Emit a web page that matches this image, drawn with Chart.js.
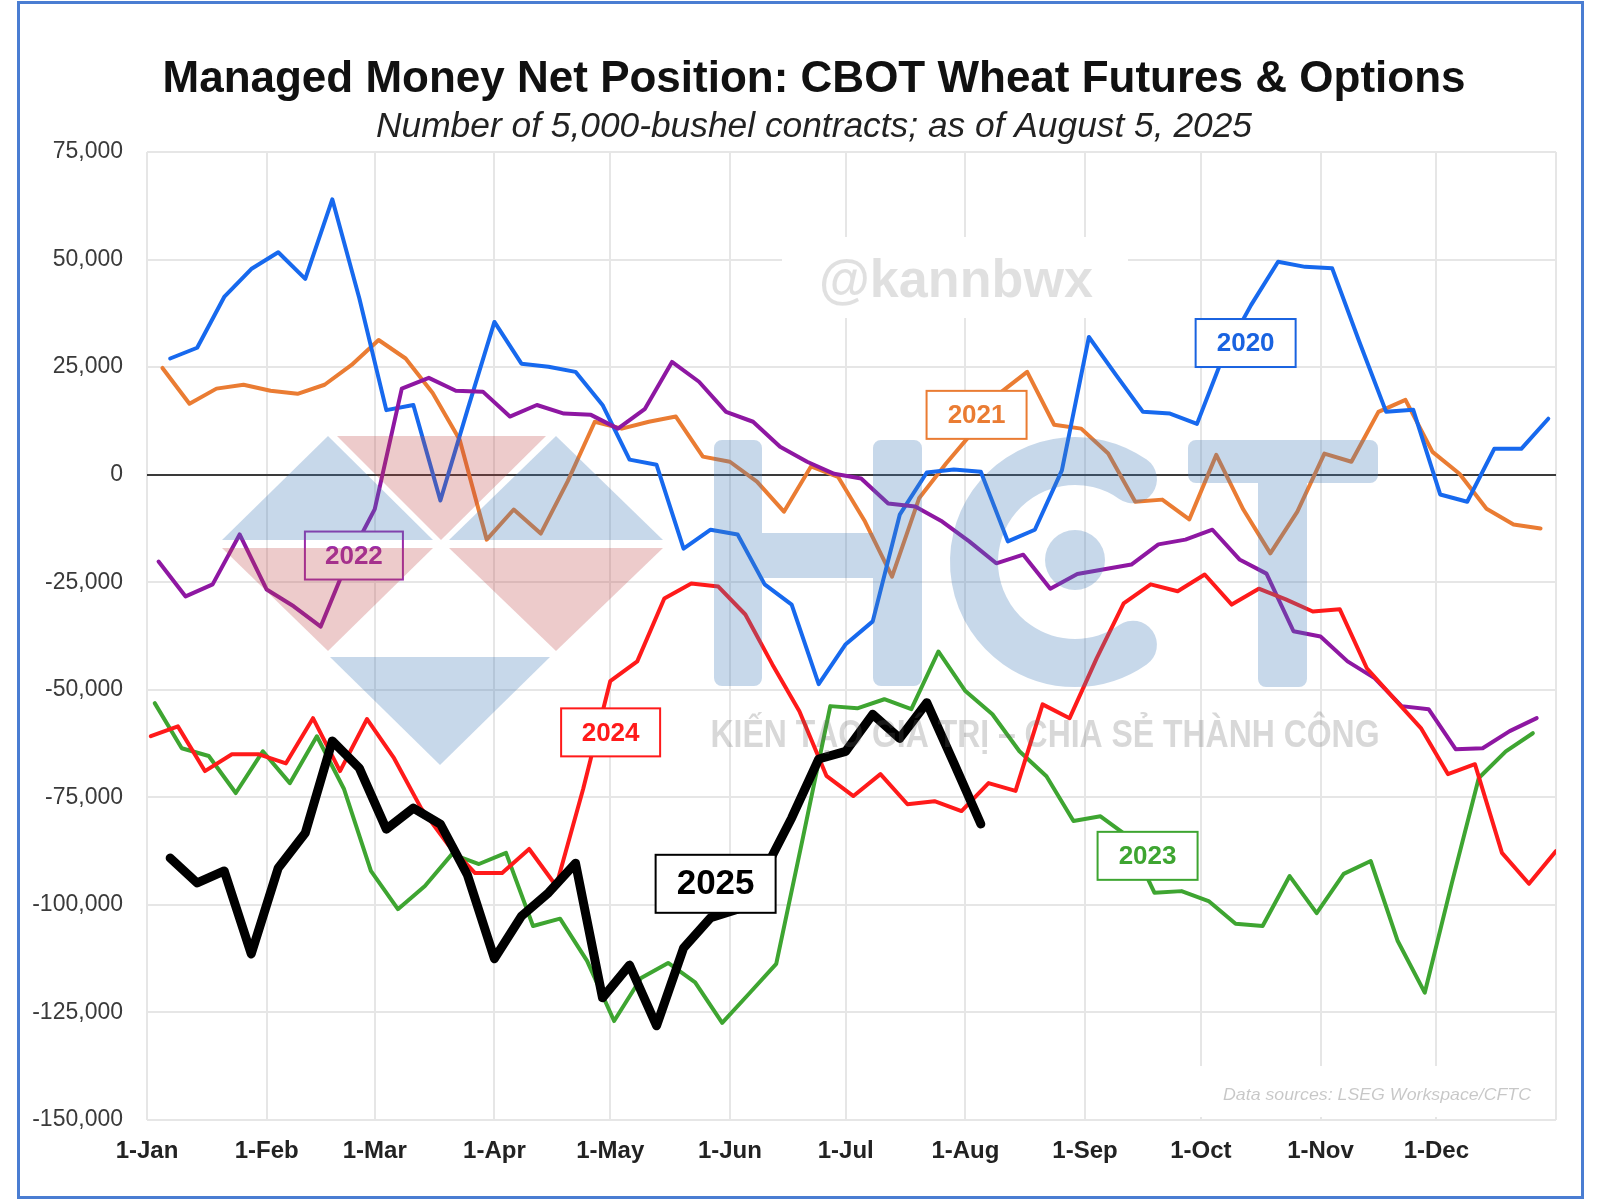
<!DOCTYPE html>
<html>
<head>
<meta charset="utf-8">
<script src="https://cdn.jsdelivr.net/npm/chart.js@4.4.0/dist/chart.umd.min.js"></script>
<style>
  html, body { margin: 0; padding: 0; background: #ffffff; }
  #wrap { width: 1600px; height: 1200px; position: relative; }
  canvas { display: block; }
</style>
</head>
<body>
<div id="wrap"><canvas id="c" width="1600" height="1200"></canvas></div>
<script>
// ---------------- DATA ----------------
const monthLabels = ['1-Jan','1-Feb','1-Mar','1-Apr','1-May','1-Jun','1-Jul','1-Aug','1-Sep','1-Oct','1-Nov','1-Dec'];
const monthStartDays = [0,31,59,90,120,151,181,212,243,273,304,334];
const yearEndDay = 365;

const seriesNames = ['2025','2024','2022','2020','2023','2021'];
// date of first weekly CFTC report in each year (weekly thereafter)
const firstReportDates = {
  '2020': '2020-01-07', '2021': '2021-01-05', '2022': '2022-01-04',
  '2023': '2023-01-03', '2024': '2024-01-02', '2025': '2025-01-07'
};

const values2020 = [27000,29500,41300,47800,51700,45500,64000,41000,15000,16200,-6000,15000,35500,25800,25100,23900,16200,3500,2300,-17200,-12800,-13900,-25500,-30200,-48700,-39400,-34100,-9300,500,1200,700,-15500,-12800,1000,32000,23200,14600,14200,11800,28000,39400,49500,48300,48000,31000,14600,15100,-4600,-6300,6000,6000,13000];
const values2021 = [24800,16500,20000,20900,19500,18800,20900,25500,31300,27000,19000,8100,-15100,-8100,-13700,-1500,12300,10700,12300,13500,4200,3000,-1600,-8600,1900,-500,-10900,-23700,-5500,2600,10000,19000,23900,11600,10700,4900,-6300,-5800,-10400,4600,-8100,-18300,-8600,4900,3000,14600,17400,5300,200,-7900,-11600,-12500];
const values2022 = [-20200,-28300,-25500,-13900,-26700,-30600,-35300,-20000,-8000,20000,22500,19500,19300,13500,16200,14200,13900,10700,15300,26200,21600,14600,12300,6500,3000,200,-900,-6700,-7400,-10900,-15500,-20600,-18600,-26500,-23100,-22000,-20900,-16200,-15100,-12800,-19700,-23000,-36400,-37600,-43400,-47300,-53800,-54500,-63800,-63600,-59600,-56600];
const values2023 = [-53100,-63600,-65400,-74000,-64300,-71700,-60800,-73000,-92100,-101000,-95600,-88200,-90500,-87900,-104900,-103200,-113000,-127000,-117000,-113500,-118000,-127400,-120600,-113700,-84000,-53800,-54300,-52200,-54500,-41100,-50300,-55700,-64300,-70100,-80500,-79400,-84000,-97200,-96800,-99100,-104400,-104900,-93300,-101900,-92800,-89800,-108400,-120400,-95000,-70500,-64300,-60100];
const values2024 = [-60800,-58500,-68900,-65000,-65000,-67100,-56600,-68900,-56800,-65900,-77500,-86000,-92600,-92600,-87000,-95600,-73000,-48000,-43400,-28800,-25300,-26000,-32500,-44100,-55000,-70000,-74700,-69600,-76600,-75900,-78200,-71700,-73500,-53400,-56600,-42700,-29900,-25500,-27100,-23200,-30200,-26500,-29000,-31800,-31300,-45000,-52000,-58900,-69600,-67300,-87900,-95100,-87500];
const values2025 = [-89100,-94900,-92100,-111400,-91400,-83300,-61900,-68200,-82400,-77500,-81200,-93000,-112500,-102600,-97200,-90300,-121600,-114000,-128100,-110000,-103000,-101000,-92000,-79800,-66100,-64300,-55700,-61300,-53000,-67000,-81200];

const seriesValues = {
  '2020': values2020, '2021': values2021, '2022': values2022,
  '2023': values2023, '2024': values2024, '2025': values2025
};

// ---------------- STYLE ----------------
const FONT = '"Liberation Sans", Arial, Helvetica, sans-serif';
const seriesStyle = {
  '2020': { color: '#1769EE', width: 4 },
  '2021': { color: '#EA7C33', width: 4 },
  '2022': { color: '#8E17A2', width: 4 },
  '2023': { color: '#3EA531', width: 4 },
  '2024': { color: '#FF1A1A', width: 4 },
  '2025': { color: '#000000', width: 9 }
};
// year-label callouts, anchored in data coordinates (day of year, contracts)
const callouts = [
  { text: '2020', day: 284.6, value: 30600,  color: '#1a63e0', w: 100, h: 48, size: 26 },
  { text: '2021', day: 214.9, value: 13900,  color: '#EA7C33', w: 100, h: 48, size: 26 },
  { text: '2022', day: 53.6,  value: -18800, color: '#9b2aa8', w: 98,  h: 48, size: 26 },
  { text: '2023', day: 259.2, value: -88600, color: '#3EA531', w: 100, h: 48, size: 26 },
  { text: '2024', day: 120.1, value: -59900, color: '#FF1A1A', w: 99,  h: 48, size: 26 },
  { text: '2025', day: 147.3, value: -95100, color: '#000000', w: 120, h: 58, size: 35 }
];

function dayOfYear(iso) {
  const [y, m, d] = iso.split('-').map(Number);
  return (Date.UTC(y, m - 1, d) - Date.UTC(y, 0, 1)) / 86400000;
}

const datasets = seriesNames.map((name, idx) => {
  const start = dayOfYear(firstReportDates[name]);
  return {
    label: name,
    data: seriesValues[name].map((v, i) => ({ x: start + 7 * i, y: v })),
    borderColor: seriesStyle[name].color,
    backgroundColor: seriesStyle[name].color,
    borderWidth: seriesStyle[name].width,
    pointRadius: 0,
    tension: 0,
    borderJoinStyle: 'round',
    borderCapStyle: 'round',
    fill: false,
    order: idx
  };
});

// ---------------- HELPERS ----------------
function fitText(ctx, text, cx, cy, targetW, font, color) {
  ctx.save();
  ctx.font = font;
  const w = ctx.measureText(text).width;
  ctx.translate(cx, cy);
  ctx.scale(targetW / w, 1);
  ctx.textAlign = 'center';
  ctx.textBaseline = 'middle';
  ctx.fillStyle = color;
  ctx.fillText(text, 0, 0);
  ctx.restore();
}
function tri(ctx, pts, color) {
  ctx.beginPath();
  ctx.moveTo(pts[0][0], pts[0][1]);
  ctx.lineTo(pts[1][0], pts[1][1]);
  ctx.lineTo(pts[2][0], pts[2][1]);
  ctx.closePath();
  ctx.fillStyle = color;
  ctx.fill();
}

const decor = {
  id: 'decor',
  beforeDraw(chart) {
    const ctx = chart.ctx;
    ctx.save();
    ctx.fillStyle = '#ffffff';
    ctx.fillRect(0, 0, chart.width, chart.height);
    ctx.restore();
  },
  beforeDatasetsDraw(chart) {
    const ctx = chart.ctx;
    ctx.save();
    ctx.fillStyle = '#ffffff';
    ctx.fillRect(782, 237, 346, 81);
    ctx.fillRect(1150, 1066, 404, 51);
    fitText(ctx, '@kannbwx', 956, 282, 274, 'bold 54px ' + FONT, 'rgba(0,0,0,0.12)');
    fitText(ctx, 'Data sources: LSEG Workspace/CFTC', 1377, 1095, 308, 'italic 17px ' + FONT, 'rgba(0,0,0,0.22)');
    ctx.restore();
  },
  afterDatasetsDraw(chart) {
    const ctx = chart.ctx;
    const xs = chart.scales.x, ys = chart.scales.y;
    ctx.save();
    callouts.forEach(c => {
      const px = xs.getPixelForValue(c.day), py = ys.getPixelForValue(c.value);
      const x0 = px - c.w / 2, y0 = py - c.h / 2;
      ctx.fillStyle = '#ffffff';
      ctx.fillRect(x0, y0, c.w, c.h);
      ctx.lineWidth = 2;
      ctx.strokeStyle = c.color;
      ctx.strokeRect(x0, y0, c.w, c.h);
      ctx.font = 'bold ' + c.size + 'px ' + FONT;
      ctx.fillStyle = c.color;
      ctx.textAlign = 'center';
      ctx.textBaseline = 'middle';
      ctx.fillText(c.text, px, py + 1);
    });
    ctx.restore();
  },
  afterDraw(chart) {
    const ctx = chart.ctx;
    ctx.save();
    // watermark logo (semi-transparent overlay)
    const blue = 'rgba(70,125,185,0.30)';
    const pink = 'rgba(190,70,70,0.28)';
    tri(ctx, [[222,540],[433,540],[328,436]], blue);
    tri(ctx, [[337,436],[546,436],[441,540]], pink);
    tri(ctx, [[449,540],[663,540],[556,436]], blue);
    tri(ctx, [[222,548],[433,548],[328,651]], pink);
    tri(ctx, [[449,548],[663,548],[556,651]], pink);
    tri(ctx, [[330,657],[550,657],[440,765]], blue);
    // H
    ctx.beginPath();
    ctx.roundRect(714, 440, 48, 246, 8);
    ctx.roundRect(873, 440, 49, 246, 8);
    ctx.rect(755, 533, 125, 45);
    ctx.fillStyle = blue;
    ctx.fill('nonzero');
    // C
    ctx.beginPath();
    ctx.arc(1075, 562, 101, -55 * Math.PI / 180, 55 * Math.PI / 180, true);
    ctx.lineWidth = 48;
    ctx.lineCap = 'round';
    ctx.strokeStyle = blue;
    ctx.stroke();
    ctx.beginPath();
    ctx.arc(1075, 560, 30, 0, Math.PI * 2);
    ctx.fillStyle = blue;
    ctx.fill();
    // T
    ctx.beginPath();
    ctx.roundRect(1188, 440, 190, 43, 8);
    ctx.roundRect(1258, 470, 49, 217, 8);
    ctx.fillStyle = blue;
    ctx.fill('nonzero');
    fitText(ctx, 'KIẾN TẠO GIÁ TRỊ – CHIA SẺ THÀNH CÔNG', 1045, 737, 669, 'bold 38px ' + FONT, 'rgba(100,100,100,0.25)');

    // title & subtitle
    fitText(ctx, 'Managed Money Net Position: CBOT Wheat Futures & Options', 814, 80, 1303, 'bold 44px ' + FONT, '#111111');
    fitText(ctx, 'Number of 5,000-bushel contracts; as of August 5, 2025', 814, 127, 876, 'italic 35px ' + FONT, '#222222');

    // outer frame
    ctx.lineWidth = 3;
    ctx.strokeStyle = '#4A7DD2';
    ctx.strokeRect(18.5, 2.5, 1564, 1195);
    ctx.restore();
  }
};

// ---------------- CHART ----------------
const tickDays = monthStartDays.concat([yearEndDay]);

new Chart(document.getElementById('c'), {
  type: 'line',
  data: { datasets },
  options: {
    responsive: false,
    animation: false,
    devicePixelRatio: 1,
    layout: { padding: { top: 152, left: 20, right: 44, bottom: 0 } },
    plugins: {
      legend: { display: false },
      title: { display: false },
      tooltip: { enabled: false }
    },
    scales: {
      x: {
        type: 'linear',
        min: 0,
        max: yearEndDay,
        afterBuildTicks(scale) { scale.ticks = tickDays.map(v => ({ value: v })); },
        afterFit(scale) { scale.height = 80; },
        border: { display: false },
        grid: { color: '#e6e6e6', lineWidth: 2, drawTicks: false },
        ticks: {
          autoSkip: false,
          maxRotation: 0,
          padding: 17,
          color: '#222222',
          font: { family: FONT, size: 24, weight: 'bold' },
          callback(value) {
            const k = monthStartDays.indexOf(value);
            return k >= 0 ? monthLabels[k] : '';
          }
        }
      },
      y: {
        min: -150000,
        max: 75000,
        afterFit(scale) { scale.width = 127; },
        border: { display: false },
        grid: {
          drawTicks: false,
          color: ctx => (ctx.tick && ctx.tick.value === 0) ? '#3a3a3a' : '#e6e6e6',
          lineWidth: 2
        },
        ticks: {
          stepSize: 25000,
          padding: 24,
          color: '#3a3a3a',
          font: { family: FONT, size: 23 },
          callback: v => v.toLocaleString('en-US')
        }
      }
    }
  },
  plugins: [decor]
});
</script>
</body>
</html>
